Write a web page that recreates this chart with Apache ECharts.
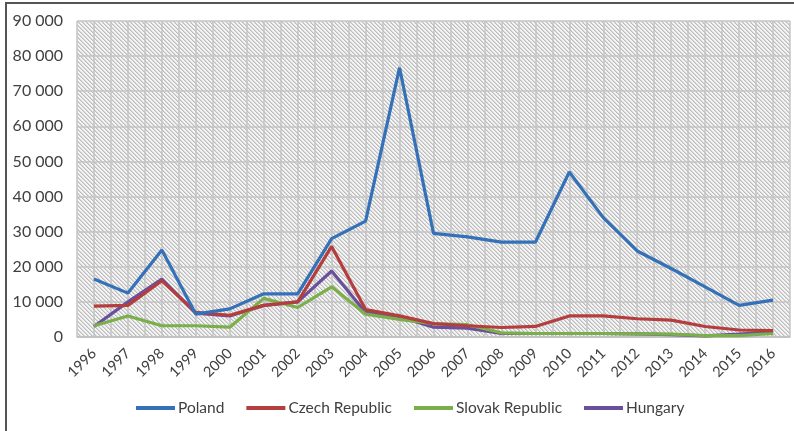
<!DOCTYPE html>
<html><head><meta charset="utf-8">
<script src="https://cdn.jsdelivr.net/npm/echarts@6/dist/echarts.min.js"></script>
<style>
html,body{margin:0;padding:0;background:#fff;}
#wrap{position:relative;width:794px;height:431px;overflow:hidden;}
#chart{width:794px;height:431px;}
#frame{position:absolute;left:5px;top:2px;width:900px;height:600px;border-left:2px solid #555;border-top:2px solid #555;pointer-events:none;}
</style></head>
<body><div id="wrap"><div id="chart"></div><div id="frame"></div></div>
<script>
const years = ['1996','1997','1998','1999','2000','2001','2002','2003','2004','2005','2006','2007','2008','2009','2010','2011','2012','2013','2014','2015','2016'];
const poland = [16500,12500,24800,6500,8000,12300,12300,28000,33000,76700,29500,28500,27000,27000,47000,34000,24500,19500,14300,9000,10500];
const czech = [8800,9000,16000,7000,6200,9000,10000,25800,7800,6000,3800,3200,2700,3000,6000,6000,5200,4800,3000,2000,1800];
const slovak = [3200,6000,3200,3200,2800,11000,8400,14300,6500,5000,3800,3500,1200,1000,1000,1000,900,800,400,400,1000];
const hungary = [3000,10000,16500,6800,6000,9000,10000,18800,7000,5800,2800,2500,1000,1000,1000,1000,900,700,300,800,1500];
const seriesNames = ['Poland','Czech Republic','Slovak Republic','Hungary'];
const colors = ['#3471B8','#B43E3E','#7AAF4B','#6A4F9C'];

// hatch pattern
const cv = document.createElement('canvas');
cv.width = 4; cv.height = 4;
const cx = cv.getContext('2d');
cx.fillStyle = '#f4f4f4'; cx.fillRect(0,0,4,4);
for (let i = 0; i < 4; i++) {
  cx.fillStyle = '#bcbcbc'; cx.fillRect(i, i, 1, 1);
  cx.fillStyle = '#d8d8d8'; cx.fillRect((i+1)%4, i, 1, 1);
}

const chart = echarts.init(document.getElementById('chart'));
const fmt = v => v === 0 ? '0' : String(v).replace(/\B(?=(\d{3})+(?!\d))/g, '\u2005');
const font = 'Lato, "Open Sans", sans-serif';
chart.setOption({
  animation: false,
  textStyle: {fontFamily: font},
  grid: {left: 77, right: 4, top: 21, bottom: 94, show: true, borderWidth: 0,
         backgroundColor: {image: cv, repeat: 'repeat'}},
  legend: {
    bottom: 10, left: 131, itemGap: 22, itemWidth: 39, itemHeight: 4, icon: 'rect',
    textStyle: {fontSize: 15.5, color: '#404040', fontFamily: font, padding: [0,0,0,-2]},
    data: seriesNames
  },
  xAxis: [{
    type: 'category', data: years, boundaryGap: true,
    axisLine: {show: true, lineStyle: {color: '#bfbfbf', width: 1.5}},
    axisTick: {show: false},
    splitLine: {show: false},
    axisLabel: {rotate: 45, fontSize: 14.5, color: '#404040', margin: 14, interval: 0, fontFamily: font}
  }, {
    type: 'value', min: 0, max: 42, interval: 1, show: true, position: 'bottom',
    axisLine: {show: false}, axisTick: {show: false}, axisLabel: {show: false},
    splitLine: {show: true, lineStyle: {color: '#c4c4c4', width: 1.5}}
  }],
  yAxis: {
    type: 'value', min: 0, max: 90000, interval: 10000,
    axisLine: {show: false}, axisTick: {show: false},
    axisLabel: {fontSize: 16, color: '#404040', margin: 14, formatter: fmt, fontFamily: font},
    splitLine: {show: true, lineStyle: {color: '#c4c4c4', width: 1.5}}
  },
  series: [poland, czech, slovak, hungary].map((d, i) => ({
    name: seriesNames[i], type: 'line', data: d, xAxisIndex: 0,
    symbol: 'none', smooth: false, color: colors[i],
    lineStyle: {width: 3.2, color: colors[i]}, z: 10 - i
  }))
});
</script></body></html>
